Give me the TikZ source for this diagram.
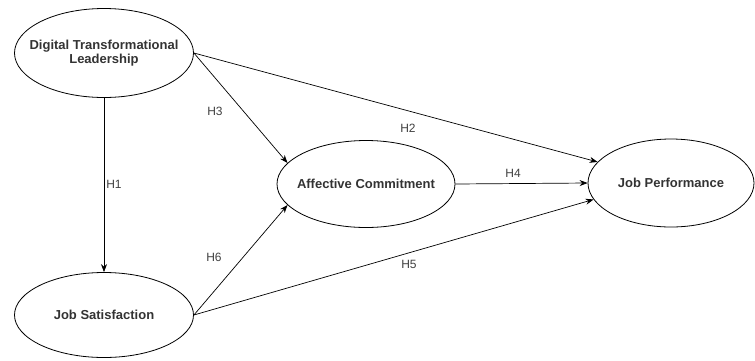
\documentclass[tikz,border=0pt]{standalone}
\usepackage{fontspec}
\setmainfont{Liberation Sans}
\usetikzlibrary{arrows.meta,shapes.geometric}
\newcommand{\zerow}[1]{\makebox[0pt][c]{#1}}
\begin{document}
\begin{tikzpicture}[x=1pt,y=-1pt,
  construct/.style={ellipse,draw,line width=0.8pt,inner sep=0pt,font=\fontsize{13}{15}\selectfont\bfseries,text=black!80},
  conn/.style={-{Stealth[length=8pt,width=6pt]},line width=0.7pt},
  hlab/.style={font=\fontsize{12}{14}\selectfont,text=black!75}]
\useasboundingbox (0,0) rectangle (755,360);
\node[construct,minimum width=179pt,minimum height=89pt] (dtl) at (104,53) {\zerow{\begin{tabular}{@{}c@{}}Digital Transformational\\[-1pt]Leadership\end{tabular}}};
\node[construct,minimum width=179pt,minimum height=85pt] (js) at (104,315) {\zerow{Job Satisfaction}};
\node[construct,minimum width=178pt,minimum height=87pt] (ac) at (366,184) {\zerow{Affective Commitment}};
\node[construct,minimum width=166pt,minimum height=88pt] (jp) at (671,183) {\zerow{Job Performance}};
\draw[conn] (dtl.south) -- (js.north);
\draw[conn] (dtl.east) -- (ac.165);
\draw[conn] (dtl.east) -- (jp.164);
\draw[conn] (ac.east) -- (jp.west);
\draw[conn] (js.east) -- (ac.195);
\draw[conn] (js.east) -- (jp.192);
\node[hlab] (h1) at (114,184) {H1};
\node[hlab] (h3) at (215,111) {H3};
\node[hlab] (h2) at (408,128) {H2};
\node[hlab] (h4) at (513,173) {H4};
\node[hlab] (h5) at (409,264) {H5};
\node[hlab] (h6) at (214,257) {H6};
\end{tikzpicture}
\end{document}
